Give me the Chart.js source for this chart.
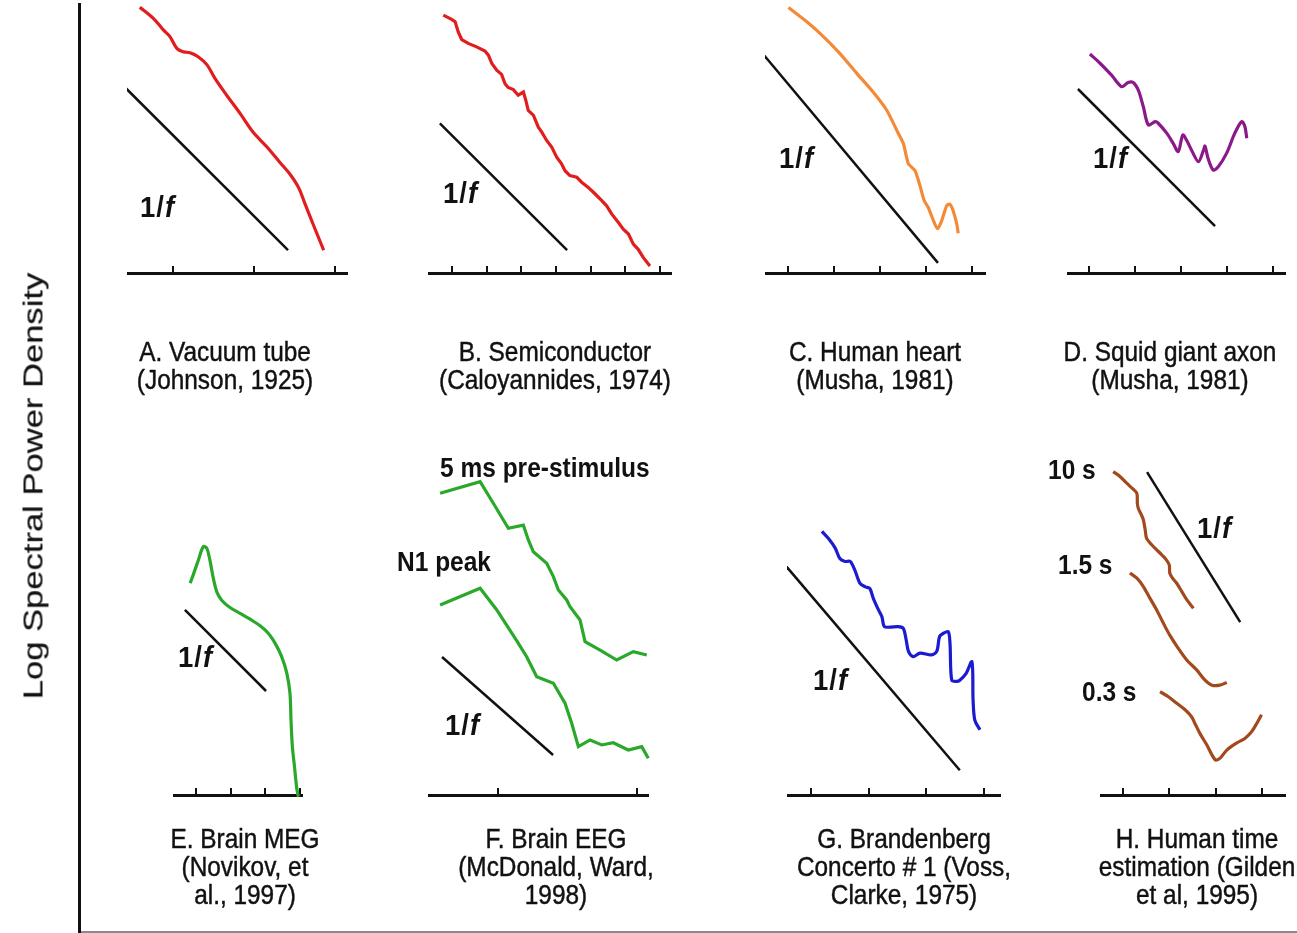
<!DOCTYPE html>
<html>
<head>
<meta charset="utf-8">
<script src="https://cdn.jsdelivr.net/npm/chart.js@4.4.0/dist/chart.umd.min.js"></script>
<style>
  body { margin: 0; background: #fff; width: 1297px; height: 933px; overflow: hidden; position: relative;
         font-family: "Liberation Sans", Arial, sans-serif; color: #111; }
  canvas { position: absolute; }
  .lbl { position: absolute; white-space: nowrap; font-size: 24.5px; font-weight: bold; line-height: 26px;
         transform: scaleY(1.1); transform-origin: left center; }
  .onef { font-size: 27.5px; letter-spacing: 1px; }
  .cap { position: absolute; white-space: nowrap; font-size: 24.4px; line-height: 25.45px; text-align: center;
         -webkit-text-stroke: 0.4px #111;
         transform: translateX(-50%) scaleY(1.1); transform-origin: center top; }
  .ytitle { position: absolute; left: 34px; top: 486px; white-space: nowrap; font-size: 27px;
            -webkit-text-stroke: 0.2px #222;
            transform: translate(-50%, -50%) rotate(-90deg) scaleX(1.28); }
</style>
</head>
<body>
<canvas id="frame" width="1297" height="933" style="left:0;top:0"></canvas>
<div class="ytitle">Log Spectral Power Density</div>
<script>
// tick positions along each panel's log-frequency axis
const ticksA = [1, 2, 3];
const ticksB = [1, 2, 3, 4, 5, 6, 7];
const ticksC = [1, 2, 3, 4, 5];
const ticksD = [1, 2, 3, 4, 5];
const ticksE = [1, 2, 3, 4];
const ticksF = [1, 2];
const ticksG = [1, 2, 3, 4];
const ticksH = [1, 2, 3, 4];

// [log frequency, log power]
const vacuumTube = [[0.59,3.27],[0.76,3.13],[0.88,2.99],[0.96,2.91],[1.05,2.76],[1.13,2.72],[1.21,2.71],[1.31,2.66],[1.42,2.56],[1.52,2.39],[1.66,2.19],[1.83,1.96],[1.99,1.73],[2.16,1.55],[2.32,1.36],[2.44,1.22],[2.55,1.05],[2.63,0.85],[2.73,0.60],[2.86,0.28]];
const vacuumRef = [[0.28,2.41],[2.42,0.28]];

const semiconductor = [[0.75,7.41],[0.99,7.29],[1.09,7.22],[1.18,6.93],[1.28,6.71],[1.47,6.60],[1.71,6.50],[1.95,6.38],[2.05,6.26],[2.15,6.02],[2.29,5.83],[2.43,5.71],[2.53,5.44],[2.62,5.33],[2.77,5.27],[2.91,5.11],[3.06,5.20],[3.13,4.96],[3.20,4.67],[3.35,4.53],[3.49,4.19],[3.59,4.05],[3.73,3.81],[3.88,3.61],[4.02,3.33],[4.16,3.14],[4.26,2.94],[4.40,2.80],[4.60,2.75],[4.74,2.61],[4.93,2.46],[5.13,2.27],[5.32,2.08],[5.46,1.93],[5.61,1.69],[5.80,1.45],[5.94,1.26],[6.09,1.12],[6.23,0.83],[6.37,0.68],[6.52,0.44],[6.71,0.20]];
const semiRef = [[0.65,4.30],[4.32,0.66]];

const heart = [[1.01,5.75],[1.41,5.44],[1.77,5.12],[2.13,4.75],[2.49,4.33],[2.85,3.92],[3.15,3.52],[3.40,3.02],[3.51,2.80],[3.57,2.54],[3.62,2.36],[3.76,2.22],[3.87,1.89],[3.96,1.57],[4.05,1.42],[4.12,1.24],[4.18,1.09],[4.25,0.96],[4.34,1.13],[4.45,1.46],[4.52,1.49],[4.59,1.35],[4.67,1.06],[4.70,0.86]];
const heartRef = [[0.24,5.00],[4.26,0.22]];

const axon = [[1.02,4.76],[1.24,4.56],[1.49,4.30],[1.71,4.05],[1.85,4.14],[1.96,4.14],[2.07,3.98],[2.18,3.62],[2.29,3.22],[2.44,3.29],[2.51,3.25],[2.69,3.04],[2.83,2.82],[2.94,2.64],[3.04,3.00],[3.12,2.89],[3.23,2.67],[3.38,2.42],[3.49,2.67],[3.52,2.76],[3.59,2.49],[3.70,2.24],[3.81,2.31],[3.99,2.60],[4.17,3.04],[4.32,3.29],[4.39,3.18],[4.43,2.93]];
const axonRef = [[0.76,4.00],[3.74,1.02]];

const meg = [[0.83,6.11],[0.92,6.35],[1.07,6.78],[1.21,7.16],[1.31,7.12],[1.40,6.78],[1.50,6.25],[1.60,5.86],[1.74,5.62],[1.98,5.41],[2.27,5.24],[2.56,5.07],[2.85,4.88],[3.09,4.66],[3.28,4.38],[3.47,3.99],[3.62,3.51],[3.71,2.93],[3.74,2.16],[3.78,1.39],[3.84,0.82],[3.90,0.24],[3.95,-0.05]];
const megRef = [[0.68,5.34],[3.02,3.00]];

const eegPre = [[0.583,2.171],[0.871,2.254],[0.966,2.099],[1.074,1.919],[1.182,1.942],[1.218,1.835],[1.254,1.750],[1.350,1.667],[1.398,1.571],[1.434,1.475],[1.494,1.403],[1.518,1.355],[1.590,1.259],[1.626,1.103],[1.734,1.043],[1.854,0.971],[1.973,1.031],[2.070,1.007]];
const eegN1 = [[0.583,1.367],[0.871,1.487],[0.991,1.331],[1.135,1.108],[1.206,0.995],[1.278,0.851],[1.398,0.804],[1.482,0.660],[1.530,0.516],[1.578,0.348],[1.662,0.396],[1.746,0.360],[1.829,0.376],[1.937,0.324],[2.034,0.348],[2.081,0.264]];
const eegRef = [[0.597,0.993],[1.396,0.288]];

const concerto = [[1.19,4.57],[1.30,4.45],[1.42,4.28],[1.50,4.10],[1.59,4.05],[1.68,4.05],[1.76,3.90],[1.85,3.67],[1.94,3.61],[2.02,3.58],[2.08,3.41],[2.17,3.21],[2.23,3.09],[2.27,2.92],[2.37,2.91],[2.51,2.92],[2.60,2.89],[2.65,2.69],[2.69,2.49],[2.77,2.40],[2.89,2.46],[3.09,2.43],[3.18,2.49],[3.23,2.75],[3.29,2.80],[3.38,2.83],[3.41,2.63],[3.44,1.99],[3.53,1.97],[3.58,1.99],[3.69,2.11],[3.79,2.31],[3.81,1.65],[3.84,1.30],[3.93,1.13]];
const concertoRef = [[0.20,4.40],[3.58,0.43]];

const time10s = [[0.79,6.98],[0.94,6.87],[1.08,6.73],[1.22,6.60],[1.30,6.51],[1.31,6.30],[1.33,6.19],[1.40,6.04],[1.44,5.94],[1.48,5.72],[1.51,5.54],[1.62,5.40],[1.73,5.29],[1.84,5.18],[1.94,5.07],[2.00,4.96],[2.01,4.79],[2.07,4.68],[2.16,4.57],[2.27,4.39],[2.38,4.21],[2.52,4.03]];
const time15s = [[1.15,4.79],[1.30,4.68],[1.44,4.50],[1.58,4.25],[1.73,3.99],[1.87,3.71],[2.01,3.45],[2.19,3.17],[2.38,2.91],[2.59,2.70],[2.77,2.48],[2.92,2.37],[3.09,2.37],[3.24,2.43]];
const time03s = [[1.80,2.23],[1.98,2.12],[2.16,1.98],[2.34,1.84],[2.48,1.69],[2.55,1.55],[2.66,1.33],[2.81,1.08],[2.99,0.76],[3.09,0.79],[3.24,0.97],[3.45,1.12],[3.63,1.22],[3.78,1.37],[3.89,1.55],[3.99,1.73]];
const timeRef = [[1.52,6.97],[3.53,3.73]];

const RED = "#e11d1d", ORANGE = "#f38a38", PURPLE = "#8a1a8c", GREEN = "#2aa82a", BLUE = "#1b1bd2", BROWN = "#a24a1e";

const panels = [
  { box: [127, 0, 220, 273], x: [0.432, 3.148], yMax: 3.358, ticks: ticksA, ref: vacuumRef,
    series: [{ d: vacuumTube, c: RED, t: 0.35 }] },
  { box: [428, 0, 243, 273], x: [0.308, 7.317], yMax: 7.846, ticks: ticksB, ref: semiRef,
    series: [{ d: semiconductor, c: RED, t: 0 }] },
  { box: [765, 0, 220, 273], x: [0.5, 5.283], yMax: 5.913, ticks: ticksC, ref: heartRef,
    series: [{ d: heart, c: ORANGE, t: 0.2 }] },
  { box: [1067, 0, 218, 273], x: [0.522, 5.261], yMax: 5.935, ticks: ticksD, ref: axonRef,
    series: [{ d: axon, c: PURPLE, t: 0.3 }] },
  { box: [173, 500, 129, 795], x: [0.337, 4.057], yMax: 8.509, ticks: ticksE, ref: megRef,
    series: [{ d: meg, c: GREEN, t: 0.35 }] },
  { box: [428, 440, 220, 795], x: [0.496, 2.079], yMax: 2.554, ticks: ticksF, ref: eegRef,
    series: [{ d: eegPre, c: GREEN, t: 0 }, { d: eegN1, c: GREEN, t: 0 }] },
  { box: [787, 500, 213, 795], x: [0.584, 4.277], yMax: 5.115, ticks: ticksG, ref: concertoRef,
    series: [{ d: concerto, c: BLUE, t: 0.3 }] },
  { box: [1100, 440, 185, 795], x: [0.504, 4.497], yMax: 7.662, ticks: ticksH, ref: timeRef,
    series: [{ d: time10s, c: BROWN, t: 0.3 }, { d: time15s, c: BROWN, t: 0.3 }, { d: time03s, c: BROWN, t: 0.3 }] }
];

const pts = arr => arr.map(p => ({ x: p[0], y: p[1] }));

// outer frame: left axis line and light bottom rule
new Chart(document.getElementById("frame"), {
  type: "line",
  data: { datasets: [] },
  options: {
    responsive: false, animation: false,
    layout: { padding: { left: 79, top: 4, right: 0, bottom: 1 } },
    plugins: { legend: { display: false }, tooltip: { enabled: false } },
    scales: {
      x: { type: "linear", min: 0, max: 1, ticks: { display: false },
           grid: { drawOnChartArea: false, drawTicks: false }, border: { color: "#8a8a8a", width: 2 } },
      y: { type: "linear", min: 0, max: 1, ticks: { display: false },
           grid: { drawOnChartArea: false, drawTicks: false }, border: { color: "#111", width: 3 } }
    }
  }
});

panels.forEach(function (p) {
  const [left, top, width, axisY] = p.box;
  const cv = document.createElement("canvas");
  cv.width = width + 2;
  cv.height = axisY - top + 4;
  cv.style.left = left + "px";
  cv.style.top = top + "px";
  document.body.appendChild(cv);

  const datasets = p.series.map(s => ({
    data: pts(s.d), borderColor: s.c, borderWidth: 3.2, pointRadius: 0,
    tension: s.t, clip: false, fill: false
  }));
  datasets.push({ data: pts(p.ref), borderColor: "#111", borderWidth: 2.5, pointRadius: 0, clip: false });

  new Chart(cv, {
    type: "line",
    data: { datasets: datasets },
    options: {
      responsive: false, animation: false,
      layout: { padding: { left: 0, right: 2, top: 0, bottom: 4 } },
      plugins: { legend: { display: false }, tooltip: { enabled: false } },
      scales: {
        x: {
          type: "linear", min: p.x[0], max: p.x[1],
          afterBuildTicks: axis => { axis.ticks = p.ticks.map(v => ({ value: v })); },
          ticks: { display: false },
          grid: { drawOnChartArea: false, drawTicks: true, tickLength: -7, color: "#111", lineWidth: 2 },
          border: { color: "#111", width: 3 }
        },
        y: { type: "linear", display: false, min: 0, max: p.yMax }
      }
    }
  });
});

// text labels
function addLabel(html, x, y, cls) {
  const el = document.createElement("div");
  el.className = cls;
  el.innerHTML = html;
  el.style.left = x + "px";
  el.style.top = y + "px";
  document.body.appendChild(el);
}
const onef = "1/<i>f</i>";
[[140, 207], [443, 193], [779, 158], [1093, 158], [178, 657], [445, 725], [813, 680], [1197, 528]]
  .forEach(q => addLabel(onef, q[0], q[1] - 13, "lbl onef"));
addLabel("5 ms pre-stimulus", 440, 455, "lbl");
addLabel("N1 peak", 397, 549, "lbl");
addLabel("10 s", 1048, 457, "lbl");
addLabel("1.5 s", 1058, 552, "lbl");
addLabel("0.3 s", 1082, 679, "lbl");

addLabel("A. Vacuum tube<br>(Johnson, 1925)", 225, 338, "cap");
addLabel("B. Semiconductor<br>(Caloyannides, 1974)", 555, 338, "cap");
addLabel("C. Human heart<br>(Musha, 1981)", 875, 338, "cap");
addLabel("D. Squid giant axon<br>(Musha, 1981)", 1170, 338, "cap");
addLabel("E. Brain MEG<br>(Novikov, et<br>al., 1997)", 245, 825, "cap");
addLabel("F. Brain EEG<br>(McDonald, Ward,<br>1998)", 556, 825, "cap");
addLabel("G. Brandenberg<br>Concerto # 1 (Voss,<br>Clarke, 1975)", 904, 825, "cap");
addLabel("H. Human time<br>estimation (Gilden<br>et al, 1995)", 1197, 825, "cap");
</script>
</body>
</html>
